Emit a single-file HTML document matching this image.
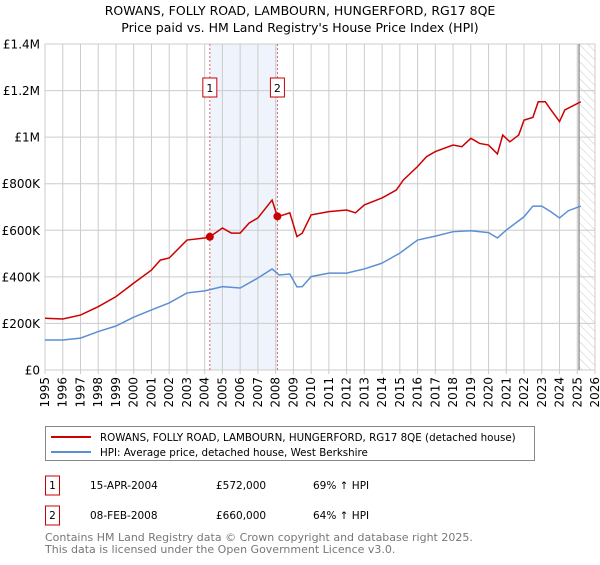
<!DOCTYPE html>
<html><head><meta charset="utf-8"><style>
body{margin:0;background:#fff;font-family:"Liberation Sans","DejaVu Sans",sans-serif;}
svg text{font-family:"DejaVu Sans","Liberation Sans",sans-serif;}
</style></head><body>
<svg id="c" width="600" height="560" viewBox="0 0 600 560" xmlns="http://www.w3.org/2000/svg">
<defs><pattern id="hatch" width="6" height="6" patternUnits="userSpaceOnUse" patternTransform="rotate(-45)"><line x1="0" y1="0" x2="0" y2="6" stroke="#ccc" stroke-width="1"/></pattern></defs>
<text x="300" y="15" text-anchor="middle" font-size="12.5" fill="#000">ROWANS, FOLLY ROAD, LAMBOURN, HUNGERFORD, RG17 8QE</text>
<text x="300" y="32" text-anchor="middle" font-size="12.5" fill="#000">Price paid vs. HM Land Registry's House Price Index (HPI)</text>
<g id="grid"></g><g id="marks"></g>
<rect x="45.5" y="426.5" width="489" height="34" fill="#fff" stroke="#888"/>
<line x1="51" y1="437" x2="91" y2="437" stroke="#cc0000" stroke-width="2"/>
<text x="100" y="441" font-size="10.3">ROWANS, FOLLY ROAD, LAMBOURN, HUNGERFORD, RG17 8QE (detached house)</text>
<line x1="51" y1="452" x2="91" y2="452" stroke="#5b8fd4" stroke-width="2"/>
<text x="100" y="456" font-size="10.3">HPI: Average price, detached house, West Berkshire</text>
<g>
<rect x="45.5" y="476" width="14" height="19" fill="#fff" stroke="#cc0000"/><text x="52.5" y="489" text-anchor="middle" font-size="10.5">1</text>
<text x="90" y="489" font-size="10.5">15-APR-2004</text><text x="216" y="489" font-size="10.5">£572,000</text><text x="313" y="489" font-size="10.5">69% ↑ HPI</text></g>
<g>
<rect x="45.5" y="506" width="14" height="19" fill="#fff" stroke="#cc0000"/><text x="52.5" y="519" text-anchor="middle" font-size="10.5">2</text>
<text x="90" y="519" font-size="10.5">08-FEB-2008</text><text x="216" y="519" font-size="10.5">£660,000</text><text x="313" y="519" font-size="10.5">64% ↑ HPI</text></g>
<text x="45" y="541" font-size="11" fill="#777">Contains HM Land Registry data © Crown copyright and database right 2025.</text>
<text x="45" y="553" font-size="11" fill="#777">This data is licensed under the Open Government Licence v3.0.</text>
</svg>
<script>
const years=[1995,1996,1997,1998,1999,2000,2001,2002,2003,2004,2005,2006,2007,2008,2009,2010,2011,2012,2013,2014,2015,2016,2017,2018,2019,2020,2021,2022,2023,2024,2025,2026];
const yTicks=[0,200000,400000,600000,800000,1000000,1200000,1400000];
const yTickLabels=["£0","£200K","£400K","£600K","£800K","£1M","£1.2M","£1.4M"];
const hpiDates=[1995,1996,1997,1998,1999,2000,2001,2002,2003,2004,2005,2006,2007,2007.8,2008.2,2008.8,2009.2,2009.5,2010,2011,2012,2013,2014,2015,2016,2017,2018,2019,2020,2020.5,2021,2022,2022.5,2023,2023.5,2024,2024.5,2025.2];
const hpiValues=[129000,129000,137000,165000,189000,227000,258000,288000,331000,340000,358000,352000,395000,434000,408000,412000,357000,358000,401000,416000,416000,434000,459000,502000,558000,575000,594000,598000,590000,567000,601000,658000,704000,704000,680000,653000,684000,704000];
const propDates=[1995,1996,1997,1998,1999,2000,2001,2001.5,2002,2003,2004,2004.29,2005,2005.5,2006,2006.5,2007,2007.8,2008.1,2008.8,2009.2,2009.5,2010,2011,2012,2012.5,2013,2014,2014.8,2015.2,2016,2016.5,2017,2018,2018.5,2019,2019.5,2020,2020.5,2020.8,2021.2,2021.7,2022,2022.5,2022.8,2023.2,2023.5,2024,2024.3,2025.2];
const propValues=[222000,219000,236000,272000,315000,373000,429000,472000,481000,558000,567000,572000,610000,588000,588000,631000,653000,730000,658000,675000,573000,588000,666000,680000,687000,675000,709000,739000,773000,816000,874000,916000,938000,966000,959000,995000,973000,966000,928000,1009000,980000,1009000,1073000,1085000,1152000,1152000,1119000,1067000,1117000,1152000];
const saleDates=[2004.29,2008.1];
const saleValues=[572000,660000];
const saleLabels=["1","2"];
const X0=45,X1=595,Y0=370,Y1=44;
const xs=d=>X0+(d-1995)/(2026-1995)*(X1-X0);
const ys=v=>Y0-v/1400000*(Y0-Y1);
const NS="http://www.w3.org/2000/svg";
function mk(p,t,a){const e=document.createElementNS(NS,t);for(const k in a)e.setAttribute(k,a[k]);p.appendChild(e);return e;}
const g=document.getElementById('grid'),m=document.getElementById('marks');
let e=mk(g,'rect',{x:xs(saleDates[0]),y:Y1,width:xs(saleDates[1])-xs(saleDates[0]),height:Y0-Y1,fill:'#eef3fc'});


e=mk(g,'rect',{x:xs(2025.1),y:Y1,width:X1-xs(2025.1),height:Y0-Y1,fill:'url(#hatch)'});


yTicks.forEach((v,i)=>{
 let l=mk(g,'line',{x1:X0,x2:X1,y1:ys(v),y2:ys(v),stroke:'#ccc'});
 
 
 let t=mk(g,'text',{x:X0-5,y:ys(v)+4.5,'text-anchor':'end','font-size':12});
 t.textContent=yTickLabels[i];
 
 
});
years.forEach(y=>{
 let l=mk(g,'line',{x1:xs(y),x2:xs(y),y1:Y1,y2:Y0+4,stroke:'#ccc'});
 
 
 let t=mk(g,'text',{x:0,y:0,'text-anchor':'end','font-size':12,transform:`translate(${xs(y)+4},${Y0+7}) rotate(-90)`});
 t.textContent=y;
 
 
});
e=mk(g,'rect',{x:X0,y:Y1,width:X1-X0,height:Y0-Y1,fill:'none',stroke:'#ccc'});


e=mk(g,'line',{x1:xs(2025.1),x2:xs(2025.1),y1:Y1,y2:Y0,stroke:'#999','stroke-width':1.5});


saleDates.forEach((d,i)=>{
 let l=mk(m,'line',{x1:xs(d),x2:xs(d),y1:Y1,y2:Y0,stroke:'#e06666','stroke-dasharray':'2,2'});
 
 
 let r=mk(m,'rect',{x:xs(d)-7,y:78,width:14,height:19,fill:'#fff',stroke:'#cc0000'});
 
 
 let t=mk(m,'text',{x:xs(d),y:92,'text-anchor':'middle','font-size':11});
 t.textContent=saleLabels[i];
 
 
});
e=mk(m,'polyline',{points:hpiDates.map((d,i)=>xs(d)+','+ys(hpiValues[i])).join(' '),fill:'none',stroke:'#5b8fd4','stroke-width':1.5});


e=mk(m,'polyline',{points:propDates.map((d,i)=>xs(d)+','+ys(propValues[i])).join(' '),fill:'none',stroke:'#cc0000','stroke-width':1.5});


saleDates.forEach((d,i)=>{
 let c=mk(m,'circle',{cx:xs(d),cy:ys(saleValues[i]),r:4,fill:'#cc0000'});
 
 
});
</script>
</body></html>
